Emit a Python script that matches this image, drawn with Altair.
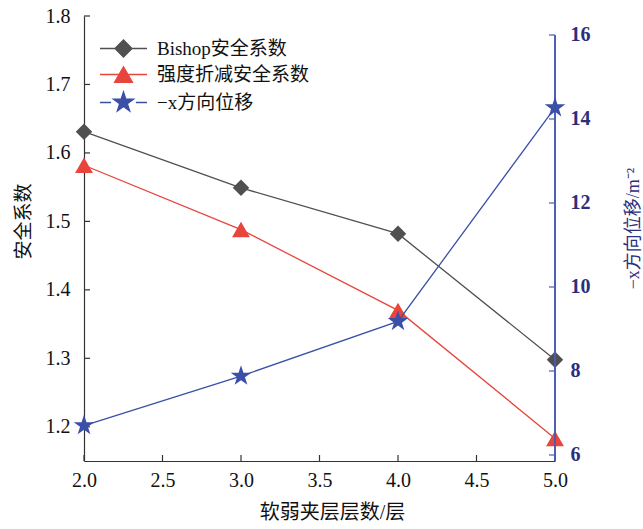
import math
import altair as alt
import pandas as pd

# Number of weak interlayers and the corresponding results
layers = [2.0, 3.0, 4.0, 5.0]
bishop_fs = [1.631, 1.549, 1.482, 1.298]
srm_fs = [1.582, 1.488, 1.370, 1.183]
disp_x = [6.70, 7.88, 9.18, 14.27]

series_names = ["Bishop安全系数", "强度折减安全系数", "−x方向位移"]
x_ticks = [2.0, 2.5, 3.0, 3.5, 4.0, 4.5, 5.0]
left_ticks = [1.2, 1.3, 1.4, 1.5, 1.6, 1.7, 1.8]
right_ticks = [6, 8, 10, 12, 14, 16]

GRAY = "#505050"
RED = "#e8453c"
BLUE = "#3a4fa8"
NAVY = "#2b2e7c"
AXIS_BLUE = "#4a5cb4"
DARK = "#333333"
SERIF = "Liberation Serif, Noto Sans CJK SC"

W, H = 471, 445
TICK = 6

df = pd.DataFrame({"layer": layers, "bishop": bishop_fs, "srm": srm_fs, "disp": disp_x})
xt_df = pd.DataFrame({"v": x_ticks})
lt_df = pd.DataFrame({"v": left_ticks})
rt_df = pd.DataFrame({"v": right_ticks})

X_DOMAIN = [2.0, 5.0]
LEFT_DOMAIN = [1.15, 1.8]
RIGHT_DOMAIN = [5.857, 16.452]


def star_path(radius, inner=0.382):
    pts = []
    for i in range(10):
        ang = -math.pi / 2 + i * math.pi / 5
        r = radius if i % 2 == 0 else radius * inner
        pts.append(f"{r * math.cos(ang):.3f},{r * math.sin(ang):.3f}")
    return "M" + "L".join(pts) + "Z"


STAR = star_path(1.0)

# legend glyphs: a short line with the series marker in the middle
legend_shapes = [
    "M-2.94,0L2.94,0M-1.06,0L0,-1.06L1.06,0L0,1.06Z",
    "M-2.94,0L2.94,0M0,-0.97L1.12,0.97L-1.12,0.97Z",
    "M-2.94,0L-1.55,0M1.55,0L2.94,0" + star_path(1.32),
]
legend_colors = [GRAY, RED, BLUE]

# scales and axes, shared by every layer that uses them
x_scale = alt.Scale(domain=X_DOMAIN, nice=False, zero=False)
x_axis = alt.Axis(
    title="软弱夹层层数/层",
    values=x_ticks,
    format=".1f",
    ticks=False,
    labelFlush=False,
    labelPadding=9,
    titlePadding=12,
    titleX=248,
    titleFontSize=20,
)
left_scale = alt.Scale(domain=LEFT_DOMAIN, nice=False, zero=False)
left_axis = alt.Axis(
    title="安全系数",
    values=left_ticks,
    format=".1f",
    ticks=False,
    labelFlush=False,
    labelPadding=14,
    titlePadding=12,
    titleAngle=270,
    titleFontSize=19,
    titleY=205,
)
right_scale = alt.Scale(domain=RIGHT_DOMAIN, nice=False, zero=False)
right_axis = alt.Axis(
    orient="right",
    title="−x方向位移/m⁻²",
    values=right_ticks,
    domain=False,
    ticks=False,
    labelFlush=False,
    labelPadding=15,
    labelColor=NAVY,
    labelFontWeight="bold",
    titleColor=NAVY,
    titleAngle=270,
    titlePadding=52,
    titleY=212,
)

X = alt.X("layer:Q", scale=x_scale, axis=x_axis)


def YL(field):
    return alt.Y(field, type="quantitative", scale=left_scale, axis=left_axis)


def YR(field):
    return alt.Y(field, type="quantitative", scale=right_scale, axis=right_axis)


bishop_line = alt.Chart(df).mark_line(color=GRAY, strokeWidth=1.3).encode(x=X, y=YL("bishop"))
bishop_pts = alt.Chart(df).mark_point(
    shape="diamond", filled=True, color=GRAY, size=270, opacity=1
).encode(x=X, y=YL("bishop"))
srm_line = alt.Chart(df).mark_line(color=RED, strokeWidth=1.3).encode(x=X, y=YL("srm"))
srm_pts = alt.Chart(df).mark_point(
    shape="triangle-up", filled=True, color=RED, size=320, opacity=1
).encode(x=X, y=YL("srm"))

# inward ticks on the left and bottom axes
left_tick_marks = alt.Chart(lt_df).mark_rule(color=DARK, strokeWidth=1.2, x2Offset=TICK).encode(
    y=YL("v"),
    x=alt.XDatum(X_DOMAIN[0], scale=x_scale, axis=x_axis),
    x2=alt.X2Datum(X_DOMAIN[0]),
)
bottom_tick_marks = alt.Chart(xt_df).mark_rule(color=DARK, strokeWidth=1.2, y2Offset=-TICK).encode(
    x=alt.X("v:Q", scale=x_scale, axis=x_axis),
    y=alt.YDatum(LEFT_DOMAIN[0], scale=left_scale, axis=left_axis),
    y2=alt.Y2Datum(LEFT_DOMAIN[0]),
)

legend_df = pd.DataFrame({"name": series_names})
legend_layer = (
    alt.Chart(legend_df)
    .mark_point(filled=True, opacity=1)
    .encode(
        shape=alt.Shape(
            "name:N",
            scale=alt.Scale(domain=series_names, range=legend_shapes),
            legend=alt.Legend(
                orient="none",
                legendX=30,
                legendY=23,
                title=None,
                labelFont=SERIF,
                labelFontSize=19,
                labelColor="#111111",
                symbolSize=256,
                symbolStrokeWidth=1.3,
                symbolOpacity=1,
                labelOffset=24,
                rowPadding=4,
                padding=0,
                symbolOffset=0,
            ),
        ),
        fill=alt.Fill("name:N", scale=alt.Scale(domain=series_names, range=legend_colors)),
        stroke=alt.Stroke("name:N", scale=alt.Scale(domain=series_names, range=legend_colors)),
    )
    .transform_filter("false")
)

left = alt.layer(
    left_tick_marks, bottom_tick_marks, bishop_line, bishop_pts, srm_line, srm_pts, legend_layer
)

disp_line = alt.Chart(df).mark_line(color=BLUE, strokeWidth=1.3).encode(x=X, y=YR("disp"))
disp_pts = alt.Chart(df).mark_point(
    shape=STAR, filled=True, color=BLUE, size=470, opacity=1
).encode(x=X, y=YR("disp"))
right_domain = alt.Chart(df).mark_rule(color=AXIS_BLUE, strokeWidth=1.2).encode(
    x=alt.XDatum(X_DOMAIN[1], scale=x_scale, axis=x_axis),
    y=alt.YDatum(RIGHT_DOMAIN[0], scale=right_scale, axis=right_axis),
    y2=alt.Y2Datum(16),
)
right_tick_marks = alt.Chart(rt_df).mark_rule(color=AXIS_BLUE, strokeWidth=1.2, x2Offset=-TICK).encode(
    y=YR("v"),
    x=alt.XDatum(X_DOMAIN[1], scale=x_scale, axis=x_axis),
    x2=alt.X2Datum(X_DOMAIN[1]),
)

right = alt.layer(right_domain, right_tick_marks, disp_line, disp_pts)

chart = (
    alt.layer(left, right)
    .resolve_scale(y="independent")
    .properties(
        width=W,
        height=H,
        padding={"left": 84, "top": 16, "right": 88, "bottom": 68},
        autosize=alt.AutoSizeParams(type="none"),
        background="white",
    )
    .configure_view(stroke=None)
    .configure_axis(
        labelFont=SERIF,
        labelFontSize=20,
        labelColor="#111111",
        titleFont=SERIF,
        titleFontSize=18,
        titleFontWeight="normal",
        titleColor="#111111",
        domainColor=DARK,
        domainWidth=1.2,
        grid=False,
    )
)

chart.save("out.html", embed_options={"renderer": "svg", "actions": False})
